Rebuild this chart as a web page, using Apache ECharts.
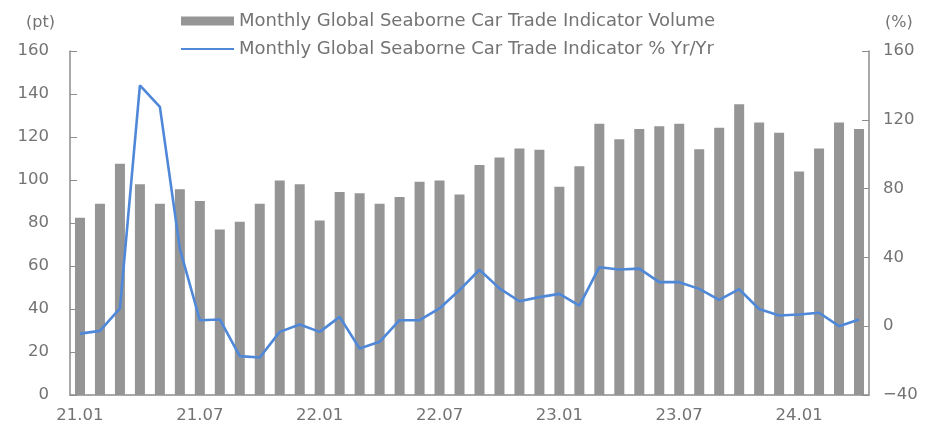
<!DOCTYPE html>
<html>
<head>
<meta charset="utf-8">
<script src="https://cdn.jsdelivr.net/npm/echarts@6.0.0/dist/echarts.min.js"></script>
<style>
	html, body { margin: 0; padding: 0; background: #fff; }
	#chart { width: 934px; height: 428px; }
</style>
</head>
<body>
<div id="chart"></div>
<script>
	// months 21.01 .. 24.04
	var months = [
		'21.01','21.02','21.03','21.04','21.05','21.06','21.07','21.08','21.09','21.10','21.11','21.12',
		'22.01','22.02','22.03','22.04','22.05','22.06','22.07','22.08','22.09','22.10','22.11','22.12',
		'23.01','23.02','23.03','23.04','23.05','23.06','23.07','23.08','23.09','23.10','23.11','23.12',
		'24.01','24.02','24.03','24.04'
	]
	// volume indicator (pt), left axis
	var volume = [
		82.5, 89, 107.6, 98, 89, 95.7, 90.2, 77, 80.6, 89, 99.8, 98,
		81.2, 94.4, 93.8, 89, 92.1, 99.2, 99.8, 93.3, 107, 110.5, 114.7, 114.1,
		96.9, 106.4, 126.2, 118.9, 123.7, 125, 126.2, 114.3, 124.3, 135.2, 126.8, 122,
		104, 114.7, 126.8, 123.7
	]
	// % Yr/Yr, right axis
	var yoy = [
		-4.3, -2.7, 10.3, 140, 127.5, 45, 3.5, 3.9, -17.4, -18.2, -3.3, 1,
		-3.3, 5.4, -13, -9.1, 3.5, 3.5, 10.3, 21, 32.8, 22, 14.5, 16.9,
		18.8, 12, 34.3, 33, 33.5, 25.6, 25.6, 21.7, 15.3, 21.5, 10, 6.2,
		6.8, 7.8, 0, 3.9
	]
	var volName = 'Monthly Global Seaborne Car Trade Indicator Volume'
	var yoyName = 'Monthly Global Seaborne Car Trade Indicator % Yr/Yr'

	var font = 'DejaVu Sans'
	var txtColor = '#737373'
	var axisColor = '#8c8c8c'
	// plain line for the legend (tiny corner dots keep the box 53x9)
	var lineIcon = 'path://M0,0L0.01,0L0,0.01Z M0,3.4L53,3.4L53,5.6L0,5.6Z M53,9L52.99,9L53,8.99Z'

	var chart = echarts.init(document.getElementById('chart'))
	chart.setOption({
		animation: false,
		grid: { left: 70, right: 65, top: 51, bottom: 33, containLabel: false },
		legend: {
			orient: 'vertical',
			left: 176,
			top: 7,
			itemWidth: 53,
			itemHeight: 9,
			itemGap: 10,
			textStyle: { fontFamily: font, fontSize: 18, color: txtColor, lineHeight: 18 },
			data: [
				{ name: volName, icon: 'rect' },
				{ name: yoyName, icon: lineIcon }
			]
		},
		xAxis: {
			type: 'category',
			data: months,
			boundaryGap: true,
			axisLine: { lineStyle: { color: axisColor, width: 1.5 } },
			axisTick: { inside: true, length: 5, interval: 5, lineStyle: { color: axisColor } },
			axisLabel: { interval: 5, margin: 12, fontFamily: font, fontSize: 16.5, color: txtColor }
		},
		yAxis: [
			{
				type: 'value',
				min: 0,
				max: 160,
				interval: 20,
				name: '(pt)',
				nameLocation: 'end',
				nameGap: 20,
				nameTextStyle: { fontFamily: font, fontSize: 16, color: txtColor, align: 'right', padding: [0, 15, 0, 0] },
				axisLine: { show: true, lineStyle: { color: axisColor, width: 1.5 } },
				axisTick: { show: true, inside: true, length: 7, lineStyle: { color: axisColor } },
				axisLabel: { margin: 21, fontFamily: font, fontSize: 16.5, color: txtColor },
				splitLine: { show: false }
			},
			{
				type: 'value',
				min: -40,
				max: 160,
				interval: 40,
				name: '(%)',
				nameLocation: 'end',
				nameGap: 20,
				nameTextStyle: { fontFamily: font, fontSize: 16, color: txtColor, align: 'left', padding: [0, 0, 0, 16] },
				axisLine: { show: true, lineStyle: { color: axisColor, width: 1.5 } },
				axisTick: { show: true, inside: true, length: 7, lineStyle: { color: axisColor } },
				axisLabel: {
					margin: 14, fontFamily: font, fontSize: 16.5, color: txtColor,
					formatter: function (v) { return String(v).replace('-', '\u2212') }
				},
				splitLine: { show: false }
			}
		],
		series: [
			{
				name: volName,
				type: 'bar',
				yAxisIndex: 0,
				barWidth: 10,
				data: volume,
				itemStyle: { color: '#959595' }
			},
			{
				name: yoyName,
				type: 'line',
				yAxisIndex: 1,
				symbol: 'none',
				data: yoy,
				lineStyle: { color: '#4f88d8', width: 2.6 },
				itemStyle: { color: '#4f88d8' }
			}
		]
	})
</script>
</body>
</html>
